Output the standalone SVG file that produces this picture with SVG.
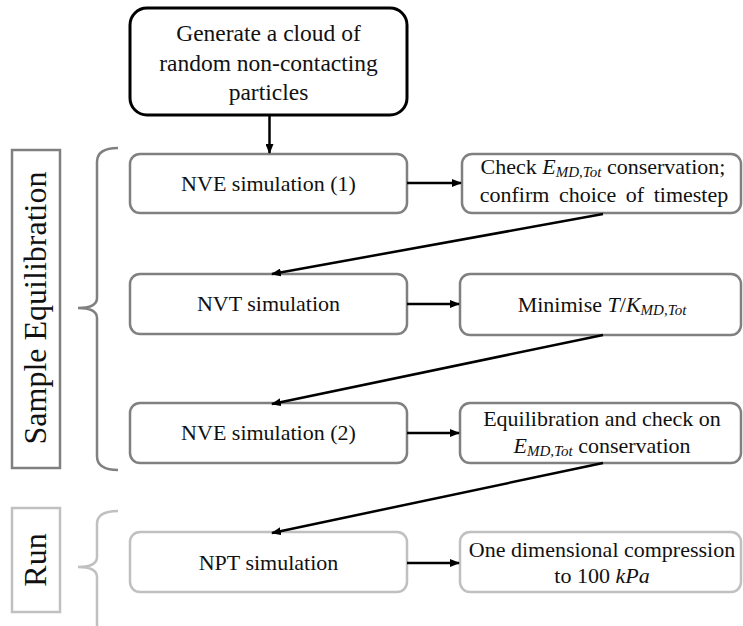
<svg xmlns="http://www.w3.org/2000/svg" width="743" height="626" viewBox="0 0 743 626" font-family="'Liberation Serif', 'Times New Roman', serif">
<defs>
<marker id="ah" markerWidth="10" markerHeight="8" refX="9" refY="4" orient="auto" markerUnits="userSpaceOnUse">
<path d="M0,0 L10,4 L0,8 Z" fill="#000"/>
</marker>
<style>
text{fill:#111;}
.lbl{font-size:22px;text-anchor:middle;}
.big{font-size:23.5px;text-anchor:middle;}
.side{font-size:32px;text-anchor:middle;}
.m{font-style:italic;}
.sub{font-style:italic;font-size:15px;}
.b1{fill:#fff;stroke:#808080;stroke-width:2.5;}
.b2{fill:#fff;stroke:#c0c0c0;stroke-width:2.5;}
.conn line{stroke:#000;stroke-width:2.5;marker-end:url(#ah);}
</style>
</defs>
<rect width="743" height="626" fill="#fff"/>

<g id="label-sample">
<rect x="12" y="150" width="48" height="318" fill="#fff" stroke="#808080" stroke-width="2.5"/>
<text class="side" font-family="Liberation Serif" transform="translate(46,308) rotate(-90)" x="0" y="0">Sample  Equilibration</text>
<path d="M118,148 Q97,148 97,162 V298 Q97,308 78,308 Q97,308 97,318 V456 Q97,470 118,470" fill="none" stroke="#808080" stroke-width="2.5"/>
</g>

<g id="label-run">
<rect x="12" y="508" width="48" height="104" fill="#fff" stroke="#c0c0c0" stroke-width="2.5"/>
<text class="side" font-family="Liberation Serif" transform="translate(46,560) rotate(-90)" x="0" y="0">Run</text>
<path d="M118,511 Q97,511 97,524 V557 Q97,567 78,567 Q97,567 97,577 V626" fill="none" stroke="#c0c0c0" stroke-width="2.5"/>
</g>

<g id="generate">
<rect x="130" y="8" width="277" height="107" rx="17" fill="#fff" stroke="#000" stroke-width="3"/>
<text class="big" font-family="Liberation Serif" x="268.5" y="41">Generate a cloud of</text>
<text class="big" font-family="Liberation Serif" x="268.5" y="71">random non-contacting</text>
<text class="big" font-family="Liberation Serif" x="268.5" y="100">particles</text>
</g>

<g id="nve1">
<rect class="b1" x="130" y="154" width="277" height="59" rx="10"/>
<text class="lbl" font-family="Liberation Serif" x="268.5" y="191">NVE simulation (1)</text>
</g>
<g id="check">
<rect class="b1" x="462" y="154" width="279" height="59" rx="10"/>
<text class="lbl" font-family="Liberation Serif" x="603" y="174">Check <tspan class="m">E</tspan><tspan class="sub" dy="3">MD,Tot</tspan><tspan dy="-3"> conservation;</tspan></text>
<text class="lbl" font-family="Liberation Serif" x="604" y="202" word-spacing="4">confirm choice of timestep</text>
</g>

<g id="nvt">
<rect class="b1" x="130" y="274" width="277" height="60" rx="10"/>
<text class="lbl" font-family="Liberation Serif" x="268.5" y="311">NVT simulation</text>
</g>
<g id="minimise">
<rect class="b1" x="460" y="274" width="281" height="61" rx="10"/>
<text class="lbl" font-family="Liberation Serif" x="602" y="312">Minimise <tspan class="m">T</tspan>/<tspan class="m">K</tspan><tspan class="sub" dy="3">MD,Tot</tspan></text>
</g>

<g id="nve2">
<rect class="b1" x="130" y="403" width="277" height="60" rx="10"/>
<text class="lbl" font-family="Liberation Serif" x="268.5" y="440">NVE simulation (2)</text>
</g>
<g id="equil">
<rect class="b1" x="460" y="403" width="281" height="60" rx="10"/>
<text class="lbl" font-family="Liberation Serif" x="602" y="426">Equilibration  and check  on</text>
<text class="lbl" font-family="Liberation Serif" x="602" y="453"><tspan class="m">E</tspan><tspan class="sub" dy="3">MD,Tot</tspan><tspan dy="-3"> conservation</tspan></text>
</g>

<g id="npt">
<rect class="b2" x="130" y="532" width="277" height="60" rx="10"/>
<text class="lbl" font-family="Liberation Serif" x="268.5" y="570">NPT simulation</text>
</g>
<g id="compress">
<rect class="b2" x="460" y="532" width="281" height="60" rx="10"/>
<text class="lbl" font-family="Liberation Serif" x="602" y="557">One dimensional  compression</text>
<text class="lbl" font-family="Liberation Serif" x="602" y="583">to 100 <tspan class="m">kPa</tspan></text>
</g>

<g class="conn" id="connectors">
<line x1="269.5" y1="115" x2="269.5" y2="153"/>
<line x1="407" y1="183" x2="461" y2="183"/>
<line x1="603" y1="214" x2="272" y2="274"/>
<line x1="407" y1="304" x2="459" y2="304"/>
<line x1="603" y1="335" x2="272" y2="404"/>
<line x1="407" y1="433" x2="459" y2="433"/>
<line x1="603" y1="463" x2="272" y2="533"/>
<line x1="407" y1="563" x2="459" y2="563"/>
</g>
</svg>
